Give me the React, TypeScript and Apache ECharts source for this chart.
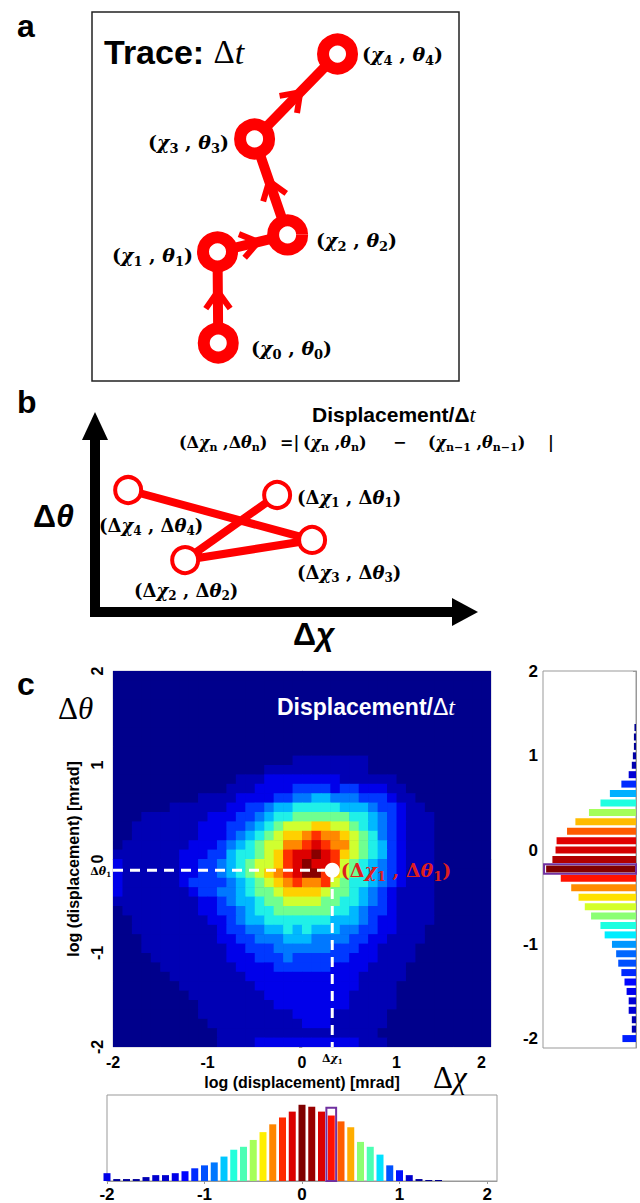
import React, { useEffect, useRef } from 'react';
import * as echarts from 'echarts';

const RED = '#ff0000';
const JET = ['#00007f', '#0000ff', '#007fff', '#00ffff', '#7fff7f', '#ffff00', '#ff7f00', '#ff0000', '#7f0000'];
const SANS = '"Liberation Sans", Arial, sans-serif';
const SERIF = '"DejaVu Serif", serif';
const TSERIF = '"Liberation Serif", "Times New Roman", serif';

// ---- Panel a: trace positions (arbitrary units)
const traceX = [3.44, 3.42, 5.33, 4.43, 6.69];
const traceY = [1.03, 3.5, 3.96, 6.56, 8.86];
const traceLabels = ['(χ_0 , θ_0)', '(χ_1 , θ_1)', '(χ_2 , θ_2)', '(χ_3 , θ_3)', '(χ_4 , θ_4)'];

// ---- Panel b: displacement points (n = 1..4)
const dispX = [4.74, 2.32, 5.66, 0.82];
const dispY = [5.88, 2.61, 3.62, 6.13];
const dispLabels = ['(Δχ_1 , Δθ_1)', '(Δχ_2 , Δθ_2)', '(Δχ_3 , Δθ_3)', '(Δχ_4 , Δθ_4)'];

// ---- Panel c: 2D histogram, rows from +2 (top) to -2 (bottom), 40 bins of 0.1, level 0..d
const heatBinEdge = -2;
const heatBinWidth = 0.1;
const heatRows = [
  '0000000000000000000000000000000000000000',
  '0000000000000000000000000000000000000000',
  '0000000000000000000000000000000000000000',
  '0000000000000000000000000000000000000000',
  '0000000000000000000000000000000000000000',
  '0000000000000000000000000000000000000000',
  '0000000000000000000000000000000000000000',
  '0000000000000000000000000000000000000000',
  '0000000000000000000000000000000000000000',
  '0000000000000000000111111110000000000000',
  '0000000000000000111111111110000000000000',
  '0000000000000111222222221111110000000000',
  '0000000000001112222333323322211000000000',
  '0000000001111222233445544433321100000000',
  '0000001111112233455666665554332110000000',
  '0001111111222334566777777665432111000000',
  '0011111112223345678889988765432111000000',
  '00111111122234567899abaa9876432111000000',
  '011111112223456788aabcbaa876532111000000',
  '111111122233566789bccdcb9876532111000000',
  '211111122334567889bcdccb8765432111000000',
  '21111112233456789abcddb98765432111000000',
  '211111123333456789abaab87665432111000000',
  '2111111123344567789999877654321111000000',
  '1111111112234556778888776654321111000000',
  '0111111112233456677777766543321111000000',
  '0011111111223455666666655543221111000000',
  '0011111111123344556565554433221110000000',
  '0001111111122334445554444332211110000000',
  '0001111111112233344444433322111100000000',
  '0000111111112223334333333222111100000000',
  '0000011111111222233333322221111000000000',
  '0000001111111122222222222211111000000000',
  '0000000111111112222222222211110000000000',
  '0000000011111111222222222111110000000000',
  '0000000001111111122222222111110000000000',
  '0000000001111111111222211111100000000000',
  '0000000000111111111122211111100000000000',
  '0000000000011111111111111111000000000000',
  '0000000000011112222222222211100000000000',
];
const heatLevelColors = [
  '#00008c', '#0000b4', '#0000ea', '#0038ff', '#0078ff', '#00b8ff', '#20f0e8',
  '#70ff90', '#d0ff30', '#ffd000', '#ff8800', '#ff3000', '#dd0000', '#880000',
];
const dChi1 = 0.32;
const dTheta1 = -0.12;

// ---- right histogram (Δθ)
const thetaBins = ['-2.1', '-2.0', '-1.9', '-1.8', '-1.7', '-1.6', '-1.5', '-1.4', '-1.3', '-1.2', '-1.1', '-1.0',
  '-0.9', '-0.8', '-0.7', '-0.6', '-0.5', '-0.4', '-0.3', '-0.2', '-0.1', '0.0', '0.1', '0.2', '0.3', '0.4', '0.5',
  '0.6', '0.7', '0.8', '0.9', '1.0', '1.1', '1.2', '1.3', '1.4', '1.5', '1.6', '1.7', '1.8', '1.9'];
const thetaCounts = [0, 13, 4, 4, 7, 7, 9, 11, 14, 17, 19, 23, 30, 34, 43, 49, 55, 62, 72, 86, 80, 77, 76, 66, 58,
  45, 34, 25, 14, 7, 4, 3, 2, 2, 1.5, 0, 0, 0, 0, 0, 0];
const thetaHighlight = [[88, '-0.2']];

// ---- bottom histogram (Δχ)
const chiBins = ['-2.0', '-1.9', '-1.8', '-1.7', '-1.6', '-1.5', '-1.4', '-1.3', '-1.2', '-1.1', '-1.0', '-0.9',
  '-0.8', '-0.7', '-0.6', '-0.5', '-0.4', '-0.3', '-0.2', '-0.1', '0.0', '0.1', '0.2', '0.3', '0.4', '0.5', '0.6',
  '0.7', '0.8', '0.9', '1.0', '1.1', '1.2', '1.3', '1.4', '1.5', '1.6', '1.7', '1.8', '1.9', '2.0'];
const chiCounts = [8, 2, 2, 2, 4, 6, 6, 8, 10, 13, 16, 19, 25, 32, 35, 42, 50, 58, 65, 71, 78, 76, 71, 67, 61, 55,
  40, 35, 27, 16, 11, 6, 2, 1, 1, 0, 0, 0, 0, 0, 0];
const chiHighlight = [['0.3', 75]];

const histTickBins = ['-2.0', '-1.0', '0.0', '1.0', '1.9'];
const histLabel = (v: string) => (v === '1.9' ? '2' : String(Number(v)));
const histInterval = (_i: number, v: string) => histTickBins.indexOf(v) >= 0;

// mini math markup: χ/θ italic, "_x" subscript
function mathText(src: string) {
  let out = '';
  let i = 0;
  while (i < src.length) {
    const ch = src[i];
    if (ch === '_') {
      let j = i + 1;
      let sub = '';
      while (j < src.length && ' ,()'.indexOf(src[j]) < 0) { sub += src[j]; j++; }
      out += `{s|${sub}}`;
      i = j;
      continue;
    }
    if (ch === 'χ' || ch === 'θ') { out += `{v|${ch}}`; i++; continue; }
    let j = i;
    let s = '';
    while (j < src.length && src[j] !== '_' && src[j] !== 'χ' && src[j] !== 'θ') { s += src[j]; j++; }
    out += `{p|${s}}`;
    i = j;
  }
  return out;
}
function mathRichZr(size: number, color: string) {
  const sub = Math.round(size * 0.68);
  const lh = Math.round(size * 1.3);
  return {
    p: { font: `bold ${size}px ${SERIF}`, fill: color, lineHeight: lh, verticalAlign: 'middle' },
    v: { font: `bold italic ${size}px ${SERIF}`, fill: color, lineHeight: lh, verticalAlign: 'middle' },
    s: { font: `bold ${sub}px ${SERIF}`, fill: color, lineHeight: sub, verticalAlign: 'bottom' },
  };
}
function M(x: number, y: number, src: string, size: number, align = 'left', color = '#000') {
  return {
    type: 'text', x, y, z: 100, silent: true,
    style: { text: mathText(src), rich: mathRichZr(size, color), align, verticalAlign: 'middle' },
  };
}

function T(x: number, y: number, text: string, font: string, extra: any = {}) {
  return {
    type: 'text', x, y, z: 100, silent: true,
    style: { text, font, fill: '#000', align: 'left', verticalAlign: 'middle', ...extra },
  };
}

function buildOption() {
  const heatData: number[][] = [];
  heatRows.forEach((row, j) => {
    for (let i = 0; i < 40; i++) {
      const xc = heatBinEdge + heatBinWidth * (i + 0.5);
      const yc = -heatBinEdge - heatBinWidth * (j + 0.5);
      heatData.push([xc, yc, parseInt(row[i] || '0', 16)]);
    }
  });
  const segs: number[][] = [];
  for (let i = 0; i < traceX.length - 1; i++) segs.push([traceX[i], traceY[i], traceX[i + 1], traceY[i + 1]]);

  const hidden = (g: number) => ({ gridIndex: g, type: 'value', min: 0, max: 10, show: false });

  const graphic: any[] = [
    // panel labels
    T(17, 26, 'a', `bold 32px ${SANS}`),
    T(17, 402, 'b', `bold 32px ${SANS}`),
    T(17, 684, 'c', `bold 32px ${SANS}`),
    // panel a
    {
      type: 'text', x: 104, y: 52, z: 100, silent: true,
      style: {
        text: '{b|Trace: }{d|Δ}{t|t}', verticalAlign: 'middle', fill: '#000',
        rich: {
          b: { font: `bold 34px ${SANS}`, fill: '#000' },
          d: { font: `33px ${TSERIF}`, fill: '#000' },
          t: { font: `italic 34px ${TSERIF}`, fill: '#000' },
        },
      },
    },
    M(251, 348, traceLabels[0], 19),
    M(193, 255, traceLabels[1], 19, 'right'),
    M(316, 240, traceLabels[2], 19),
    M(229, 142, traceLabels[3], 19, 'right'),
    M(362, 54, traceLabels[4], 19),
    // panel b axes
    { type: 'rect', z: 90, silent: true, shape: { x: 90, y: 432, width: 10, height: 185 }, style: { fill: '#000' } },
    { type: 'rect', z: 90, silent: true, shape: { x: 90, y: 607, width: 366, height: 10 }, style: { fill: '#000' } },
    { type: 'polygon', z: 90, silent: true, shape: { points: [[95, 412], [82, 440], [108, 440]] }, style: { fill: '#000' } },
    { type: 'polygon', z: 90, silent: true, shape: { points: [[478, 612], [452, 598], [452, 626]] }, style: { fill: '#000' } },
    {
      type: 'text', x: 312, y: 414, z: 100, silent: true,
      style: {
        text: '{b|Displacement/}{d|Δ}{t|t}', verticalAlign: 'middle',
        rich: {
          b: { font: `bold 21px ${SANS}`, fill: '#000' },
          d: { font: `bold 21px ${SANS}`, fill: '#000' },
          t: { font: `italic 22px ${TSERIF}`, fill: '#000' },
        },
      },
    },
    M(179, 442, '(Δχ_n ,Δθ_n)', 16),
    M(280, 442, '=|', 16),
    M(303, 442, '(χ_n ,θ_n)', 16),
    M(393, 442, '−', 16),
    M(428, 442, '(χ_n−1 ,θ_n−1)', 16),
    M(548, 442, '|', 16),
    {
      type: 'text', x: 33, y: 516, z: 100, silent: true,
      style: {
        text: '{d|Δ}{t|θ}', verticalAlign: 'middle',
        rich: { d: { font: `bold 32px ${SANS}`, fill: '#000' }, t: { font: `bold italic 32px ${SANS}`, fill: '#000' } },
      },
    },
    {
      type: 'text', x: 293, y: 634, z: 100, silent: true,
      style: {
        text: '{d|Δ}{t|χ}', verticalAlign: 'middle',
        rich: { d: { font: `bold 32px ${SANS}`, fill: '#000' }, t: { font: `bold italic 32px ${SANS}`, fill: '#000' } },
      },
    },
    M(297, 497, dispLabels[0], 18),
    M(134, 590, dispLabels[1], 18),
    M(297, 572, dispLabels[2], 18),
    M(99, 525, dispLabels[3], 18),
    // panel c
    {
      type: 'text', x: 58, y: 708, z: 100, silent: true,
      style: {
        text: '{d|Δ}{t|θ}', verticalAlign: 'middle',
        rich: { d: { font: `31px ${TSERIF}`, fill: '#000' }, t: { font: `italic 31px ${TSERIF}`, fill: '#000' } },
      },
    },
    {
      type: 'text', x: 433, y: 1077, z: 100, silent: true,
      style: {
        text: '{d|Δ}{t|χ}', verticalAlign: 'middle',
        rich: { d: { font: `31px ${TSERIF}`, fill: '#000' }, t: { font: `italic 31px ${TSERIF}`, fill: '#000' } },
      },
    },
    {
      type: 'text', x: 277, y: 707, z: 100, silent: true,
      style: {
        text: '{b|Displacement/}{d|Δ}{t|t}', verticalAlign: 'middle',
        rich: {
          b: { font: `bold 23px ${SANS}`, fill: '#fff' },
          d: { font: `23px ${SANS}`, fill: '#fff' },
          t: { font: `italic 24px ${TSERIF}`, fill: '#fff' },
        },
      },
    },
    M(111, 871, 'Δθ_1', 11, 'right'),
    M(322, 1058, 'Δχ_1', 11),
  ];

  const redRich = {
    p: { color: '#dd1f1f', fontFamily: SERIF, fontWeight: 'bold', fontSize: 19, lineHeight: 25, verticalAlign: 'middle' },
    v: { color: '#dd1f1f', fontFamily: SERIF, fontWeight: 'bold', fontStyle: 'italic', fontSize: 19, lineHeight: 25, verticalAlign: 'middle' },
    s: { color: '#dd1f1f', fontFamily: SERIF, fontWeight: 'bold', fontSize: 13, lineHeight: 13, verticalAlign: 'bottom' },
  };

  return {
    animation: false,
    backgroundColor: '#fff',
    textStyle: { fontFamily: SANS },
    grid: [
      { left: 92, top: 12, width: 367, height: 369, show: true, borderColor: '#222', borderWidth: 1.5, backgroundColor: 'transparent' },
      { left: 97, top: 413, width: 380, height: 199 },
      { left: 113, top: 671, width: 378, height: 376, show: true, borderColor: '#c4c4d4', borderWidth: 1, backgroundColor: '#00008c' },
      { left: 543, top: 671, width: 93, height: 377, show: true, borderColor: '#999', borderWidth: 1 },
      { left: 107, top: 1095, width: 390, height: 88, show: true, borderColor: '#999', borderWidth: 1 },
    ],
    xAxis: [
      hidden(0),
      hidden(1),
      {
        gridIndex: 2, type: 'value', min: -2, max: 2,
        name: 'log (displacement) [mrad]', nameLocation: 'middle', nameGap: 27,
        nameTextStyle: { fontWeight: 'bold', fontSize: 16, color: '#000' },
        axisLine: { show: true, lineStyle: { color: '#b0b0c8' } },
        axisTick: { show: true, length: 3, customValues: [-2, -1, 0, 1, 1.9], lineStyle: { color: '#999' } },
        axisLabel: {
          customValues: [-2, -1, 0, 1, 1.9], formatter: (v: number) => (v > 1.85 ? '2' : String(v)),
          fontWeight: 'bold', fontSize: 16, color: '#000', margin: 7,
        },
        splitLine: { show: false },
      },
      { gridIndex: 3, type: 'value', inverse: true, min: 0, max: 89, show: false },
      {
        gridIndex: 4, type: 'category', data: chiBins, boundaryGap: false,
        axisLine: { show: true, lineStyle: { color: '#999' } },
        axisTick: { show: true, length: 3, interval: histInterval, lineStyle: { color: '#999' } },
        axisLabel: { interval: histInterval, formatter: histLabel, fontWeight: 'bold', fontSize: 17, color: '#000', margin: 5 },
        splitLine: { show: false },
      },
    ],
    yAxis: [
      hidden(0),
      hidden(1),
      {
        gridIndex: 2, type: 'value', min: -2, max: 2, interval: 1,
        name: 'log (displacement) [mrad]', nameLocation: 'middle', nameGap: 28,
        nameTextStyle: { fontWeight: 'bold', fontSize: 16, color: '#000' },
        axisLine: { show: true, lineStyle: { color: '#b0b0c8' } },
        axisTick: { show: true, length: 3, lineStyle: { color: '#999' } },
        axisLabel: { rotate: 90, fontWeight: 'bold', fontSize: 16, color: '#000', margin: 8 },
        splitLine: { show: false },
      },
      {
        gridIndex: 3, type: 'category', data: thetaBins, boundaryGap: false,
        axisLine: { show: true, lineStyle: { color: '#999' } },
        axisTick: { show: true, length: 3, interval: histInterval, lineStyle: { color: '#999' } },
        axisLabel: { interval: histInterval, formatter: histLabel, fontWeight: 'bold', fontSize: 17, color: '#000', margin: 5 },
        splitLine: { show: false },
      },
      { gridIndex: 4, type: 'value', min: 0, max: 88, show: false },
    ],
    visualMap: [
      {
        type: 'piecewise', show: false, seriesIndex: 3, dimension: 2,
        pieces: heatLevelColors.map((c, i) => ({ value: i, color: c })),
      },
      { type: 'continuous', show: false, seriesIndex: 6, dimension: 0, min: 0, max: 84, inRange: { color: JET } },
      { type: 'continuous', show: false, seriesIndex: 7, dimension: 1, min: 0, max: 78, inRange: { color: JET } },
    ],
    series: [
      {
        type: 'line', xAxisIndex: 0, yAxisIndex: 0, z: 4,
        data: traceX.map((x, i) => [x, traceY[i]]),
        symbol: 'circle', symbolSize: 29,
        itemStyle: { color: '#fff', borderColor: RED, borderWidth: 12 },
        lineStyle: { color: RED, width: 10 },
      },
      {
        type: 'custom', xAxisIndex: 0, yAxisIndex: 0, z: 3,
        data: segs, encode: { x: [0, 2], y: [1, 3] },
        renderItem: (_p: any, api: any) => {
          const a = api.coord([api.value(0), api.value(1)]);
          const b = api.coord([api.value(2), api.value(3)]);
          const dx = b[0] - a[0];
          const dy = b[1] - a[1];
          const len = Math.hypot(dx, dy) || 1;
          const ux = dx / len, uy = dy / len;
          const nx = -uy, ny = ux;
          const tx = (a[0] + b[0]) / 2 + ux * 6;
          const ty = (a[1] + b[1]) / 2 + uy * 6;
          const L = 21, ang = 0.62;
          const c = Math.cos(ang) * L, s = Math.sin(ang) * L;
          return {
            type: 'polyline',
            shape: { points: [[tx - ux * c + nx * s, ty - uy * c + ny * s], [tx, ty], [tx - ux * c - nx * s, ty - uy * c - ny * s]] },
            style: { stroke: RED, lineWidth: 6, fill: 'none', lineJoin: 'miter' },
          };
        },
      },
      {
        type: 'line', xAxisIndex: 1, yAxisIndex: 1, z: 4,
        data: dispX.map((x, i) => [x, dispY[i]]),
        symbol: 'circle', symbolSize: 26,
        itemStyle: { color: '#fff', borderColor: RED, borderWidth: 4 },
        lineStyle: { color: RED, width: 8 },
      },
      {
        type: 'custom', xAxisIndex: 2, yAxisIndex: 2, z: 2, clip: true,
        data: heatData, encode: { x: 0, y: 1 }, dimensions: ['x', 'y', 'level'],
        renderItem: (_p: any, api: any) => {
          const x = api.value(0), y = api.value(1);
          const p0 = api.coord([x - heatBinWidth / 2, y + heatBinWidth / 2]);
          const p1 = api.coord([x + heatBinWidth / 2, y - heatBinWidth / 2]);
          return {
            type: 'rect',
            shape: { x: p0[0], y: p0[1], width: p1[0] - p0[0] + 0.6, height: p1[1] - p0[1] + 0.6 },
            style: { fill: api.visual('color') },
          };
        },
      },
      {
        type: 'line', xAxisIndex: 2, yAxisIndex: 2, z: 5, symbol: 'none',
        data: [[-2, dTheta1], [dChi1, dTheta1], [dChi1, -2]],
        lineStyle: { color: '#fff', width: 3, type: [10, 7] },
      },
      {
        type: 'scatter', xAxisIndex: 2, yAxisIndex: 2, z: 6,
        data: [[dChi1, dTheta1]], symbolSize: 15, itemStyle: { color: '#fff', opacity: 1 },
        label: {
          show: true, position: 'right', distance: 1, formatter: mathText('(Δχ_1 , Δθ_1)'), rich: redRich,
        },
      },
      {
        type: 'bar', xAxisIndex: 3, yAxisIndex: 3, barWidth: 7,
        data: thetaCounts.map((c, i) => [c, thetaBins[i]]),
      },
      {
        type: 'bar', xAxisIndex: 4, yAxisIndex: 4, barWidth: 7,
        data: chiCounts.map((c, i) => [chiBins[i], c]),
      },
      {
        type: 'custom', xAxisIndex: 3, yAxisIndex: 3, z: 5,
        data: thetaHighlight, encode: { x: 0, y: 1 },
        renderItem: (_p: any, api: any) => {
          const c = api.coord([api.value(0), api.value(1)]);
          const b = api.coord([0, api.value(1)]);
          const h = api.size([0, 1])[1];
          return {
            type: 'rect', shape: { x: c[0], y: c[1] - h / 2, width: b[0] - c[0], height: h },
            style: { stroke: '#7030a0', lineWidth: 2, fill: 'none' },
          };
        },
      },
      {
        type: 'custom', xAxisIndex: 4, yAxisIndex: 4, z: 5,
        data: chiHighlight, encode: { x: 0, y: 1 },
        renderItem: (_p: any, api: any) => {
          const c = api.coord([api.value(0), api.value(1)]);
          const b = api.coord([api.value(0), 0]);
          const w = api.size([1, 0])[0];
          return {
            type: 'rect', shape: { x: c[0] - w / 2, y: c[1], width: w, height: b[1] - c[1] },
            style: { stroke: '#7030a0', lineWidth: 2, fill: 'none' },
          };
        },
      },
    ],
    graphic: { elements: graphic },
  };
}

export default function App() {
  const ref = useRef<HTMLDivElement>(null);
  useEffect(() => {
    if (!ref.current) return;
    const chart = echarts.init(ref.current, null, { renderer: 'svg' });
    chart.setOption(buildOption() as any);
    return () => chart.dispose();
  }, []);
  return (
    <div
      ref={ref}
      style={{ position: 'absolute', left: 0, top: 0, width: 640, height: 1203, background: '#fff' }}
    />
  );
}
